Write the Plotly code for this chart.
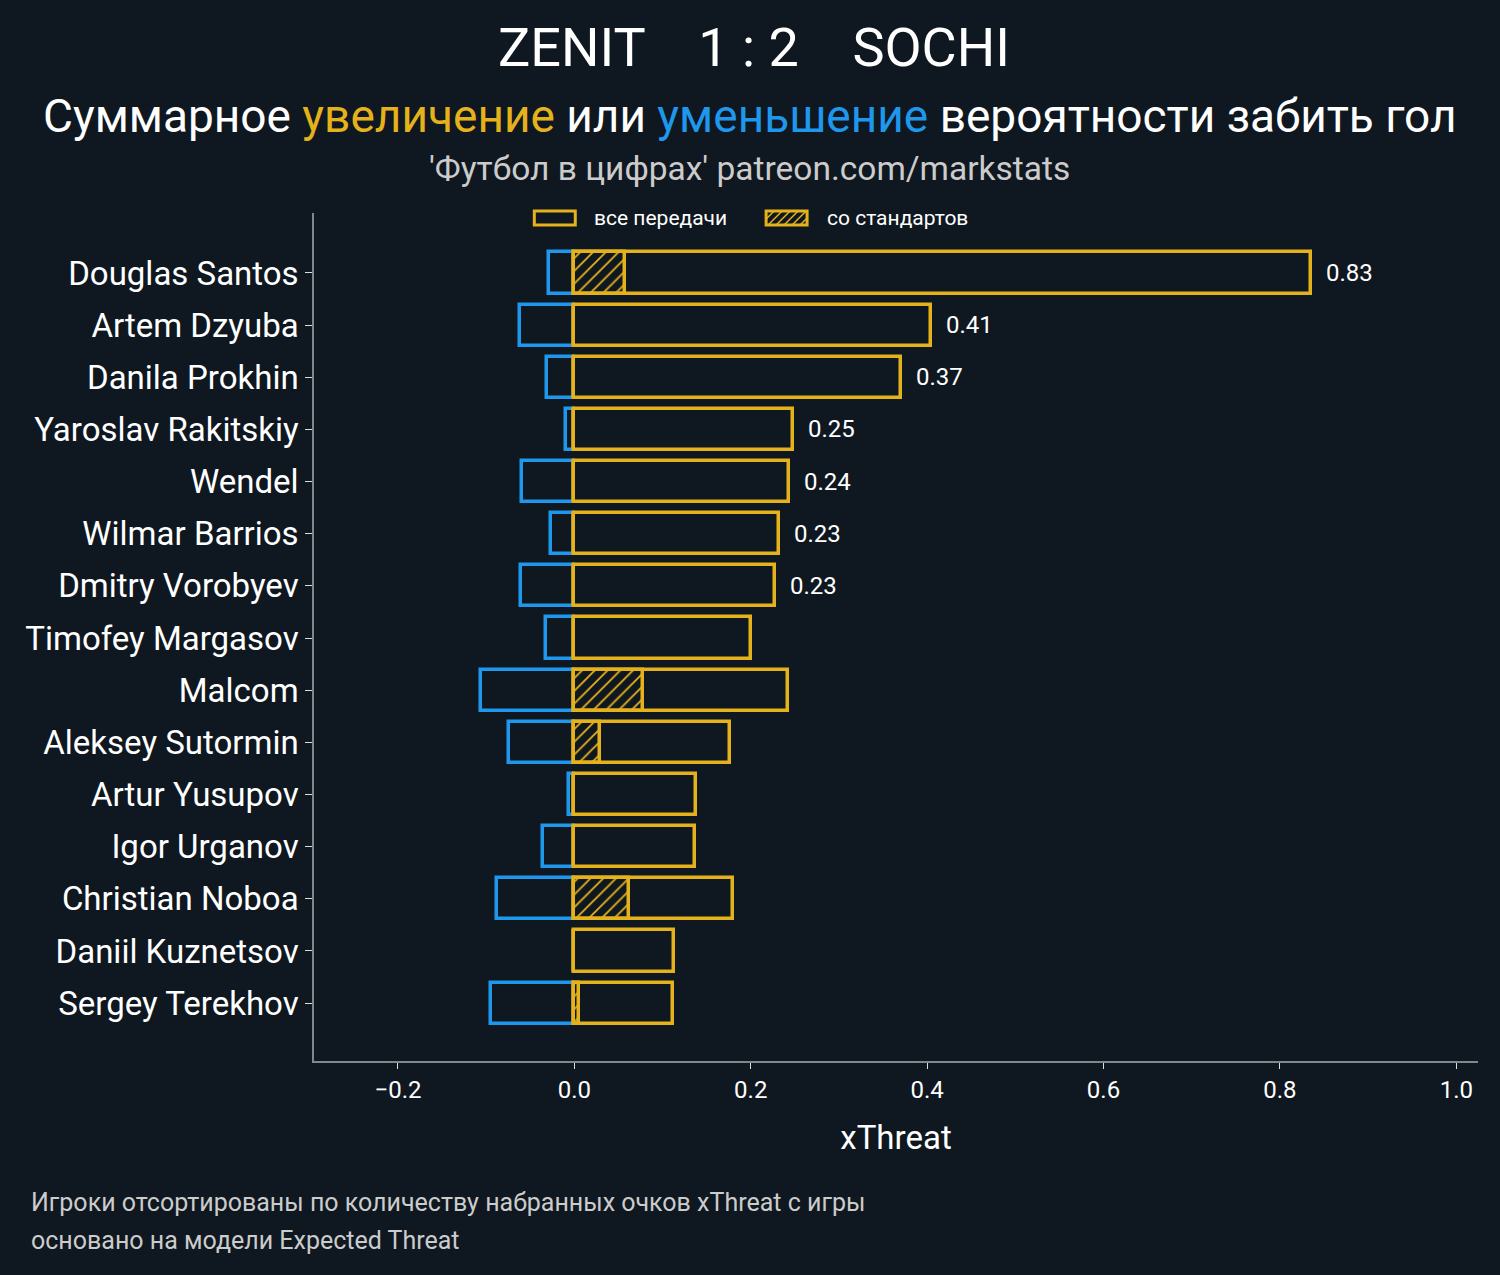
import plotly.graph_objects as go

players = ["Douglas Santos", "Artem Dzyuba", "Danila Prokhin", "Yaroslav Rakitskiy",
           "Wendel", "Wilmar Barrios", "Dmitry Vorobyev", "Timofey Margasov",
           "Malcom", "Aleksey Sutormin", "Artur Yusupov", "Igor Urganov",
           "Christian Noboa", "Daniil Kuznetsov", "Sergey Terekhov"]
# xThreat gained (all passes), lost, and gained from set pieces
gained = [0.835, 0.404, 0.370, 0.248, 0.243, 0.232, 0.227, 0.200,
          0.242, 0.177, 0.138, 0.137, 0.180, 0.113, 0.112]
lost = [-0.029, -0.062, -0.031, -0.009, -0.059, -0.026, -0.061, -0.032,
        -0.106, -0.074, -0.006, -0.035, -0.088, 0.0, -0.094]
setpieces = [0.057, 0, 0, 0, 0, 0, 0, 0, 0.078, 0.029, 0, 0, 0.062, 0, 0.005]
labels = ["0.83", "0.41", "0.37", "0.25", "0.24", "0.23", "0.23"]

BG = "#0f1820"
YEL = "#e5b21c"
BLUE = "#1e97ec"
AX = "#7b8b8b"
FONT = "Roboto"

idx = list(range(len(players)))

fig = go.Figure()
fig.add_trace(go.Bar(y=idx, x=lost, orientation="h", width=0.79,
                     marker=dict(color="rgba(0,0,0,0)", line=dict(color=BLUE, width=3.5))))
fig.add_trace(go.Bar(y=idx, x=gained, orientation="h", width=0.79,
                     marker=dict(color="rgba(0,0,0,0)", line=dict(color=YEL, width=3.5))))
fig.add_trace(go.Bar(y=idx, x=setpieces, orientation="h", width=0.79,
                     marker=dict(color="rgba(0,0,0,0)", line=dict(color=YEL, width=3.5),
                                 pattern=dict(shape="/", fgcolor=YEL, bgcolor="rgba(0,0,0,0)",
                                              fillmode="replace", size=9, solidity=0.2))))

# value labels
for i, lab in enumerate(labels):
    fig.add_annotation(x=gained[i], y=i, text=lab, showarrow=False, xanchor="left",
                       yanchor="middle", xshift=13, font=dict(size=24, color="white", family=FONT))

# plot area in pixels
L, R, T, B = 313.5, 1478.5, 213, 1061
def px(x):
    return (x - L) / (R - L)
def py(y):
    return (B - y) / (B - T)

def note(x, y, text, size, color="white", xanchor="center"):
    fig.add_annotation(x=px(x), y=py(y), xref="paper", yref="paper", showarrow=False,
                       xanchor=xanchor, yanchor="middle", text=text,
                       font=dict(size=size, color=color, family=FONT))

# header / footer
note(754, 47, "ZENIT    1 : 2    SOCHI", 54)
note(750, 116, ("Суммарное <span style='color:%s'>увеличение</span> или "
                "<span style='color:%s'>уменьшение</span> вероятности забить гол" % (YEL, BLUE)), 46)
note(749, 168, "'Футбол в цифрах' patreon.com/markstats", 33.5, "#cccccc")
note(28, 1202, "Игроки отсортированы по количеству набранных очков xThreat с игры", 25, "#cccccc", "left")
note(28, 1240, "основано на модели Expected Threat", 25, "#cccccc", "left")

# custom legend
def rect(x0, x1, y0, y1):
    return dict(type="rect", xref="paper", yref="paper", x0=px(x0), x1=px(x1), y0=py(y1), y1=py(y0),
                line=dict(color=YEL, width=3), fillcolor="rgba(0,0,0,0)")
fig.add_shape(rect(534, 575, 211, 225))
fig.add_shape(rect(766, 807, 211, 225))
# hatch lines in second legend box
hx0, hx1, hy0, hy1 = 766, 807, 211, 225
h = hy1 - hy0
path = ""
s = hx0 - h
while s < hx1:
    a0 = s
    t0 = max(0, hx0 - a0)
    t1 = min(h, hx1 - a0)
    if t1 > t0:
        path += "M%f,%f L%f,%f " % (px(a0 + t0), py(hy1 - t0), px(a0 + t1), py(hy1 - t1))
    s += 8
fig.add_shape(type="path", xref="paper", yref="paper", path=path, line=dict(color=YEL, width=1.5))
note(592, 218, "все передачи", 21, xanchor="left")
note(825, 218, "со стандартов", 21, xanchor="left")

fig.update_layout(
    width=1500, height=1275, barmode="overlay", showlegend=False,
    paper_bgcolor=BG, plot_bgcolor=BG, bargap=0,
    margin=dict(l=L, r=1500 - R, t=T, b=1275 - B),
    font=dict(family=FONT, color="white"),
    xaxis=dict(range=[-0.2952, 1.0246], tickvals=[-0.2, 0, 0.2, 0.4, 0.6, 0.8, 1.0],
               tickformat=".1f", showgrid=False, zeroline=False, showline=True,
               linecolor=AX, linewidth=1.5, ticks="outside", ticklen=6, tickcolor="#dddddd",
               tickfont=dict(size=24, color="white"), ticklabelstandoff=0,
               title=dict(text="xThreat", font=dict(size=33, color="white"), standoff=23)),
    yaxis=dict(range=[15.11, -1.15], tickvals=idx, ticktext=players, showgrid=False,
               zeroline=False, showline=True, linecolor=AX, linewidth=1.5,
               ticks="outside", ticklen=7, tickcolor="#dddddd",
               tickfont=dict(size=33, color="white"), ticklabelstandoff=0),
)

fig.write_html("out.html", config={"displayModeBar": False},
               post_script="document.body.style.margin='0';"
                           "document.body.style.background='%s';" % BG)
